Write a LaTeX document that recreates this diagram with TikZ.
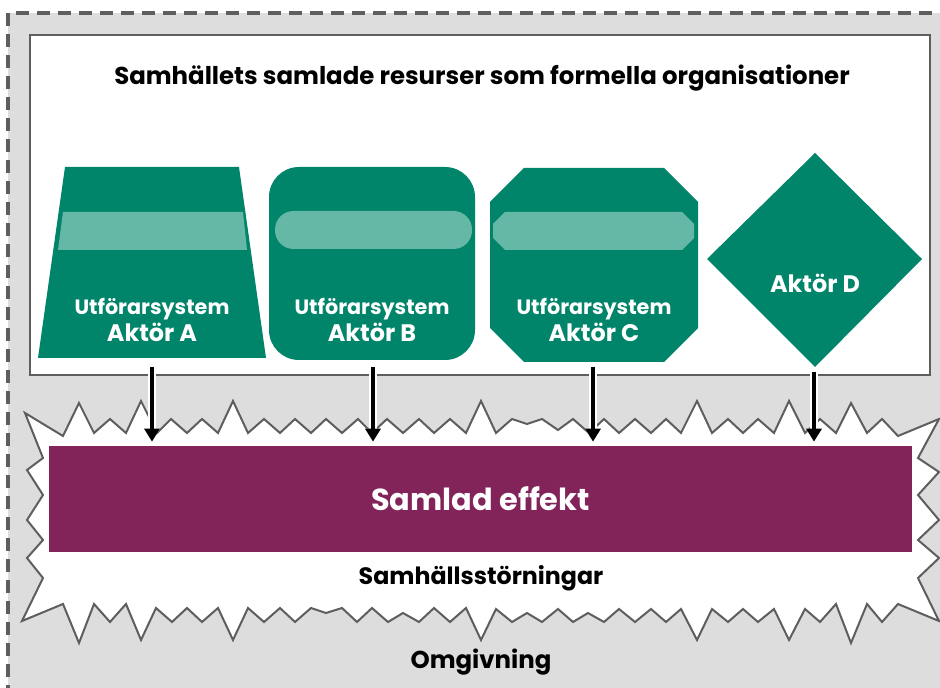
\documentclass[tikz,border=0pt]{standalone}
\usepackage{fontspec}
\setmainfont{Poppins}
\usetikzlibrary{arrows.meta}
\definecolor{envgray}{HTML}{DDDDDD}
\definecolor{edgegray}{HTML}{5E5E5E}
\definecolor{actgreen}{HTML}{00846A}
\definecolor{bandgreen}{HTML}{66B8A6}
\definecolor{effpurple}{HTML}{82245A}
\newcommand{\actname}[1]{{\fontsize{13.6}{15.9}\selectfont #1}}
\tikzset{
  env/.style={fill=envgray, draw=edgegray, line width=0.065cm, dash pattern=on 0.26cm off 0.16cm},
  res/.style={fill=white, draw=edgegray, line width=0.04cm},
  burst/.style={fill=white, draw=edgegray, line width=0.04cm, line join=miter},
  actor/.style={fill=actgreen},
  band/.style={fill=bandgreen},
  actlab/.style={text=white, align=center, font=\fontsize{11.8}{15.9}\selectfont\bfseries},
  effbox/.style={fill=effpurple, text=white, minimum width=17.26cm, minimum height=2.12cm,
    font=\fontsize{17.3}{19}\selectfont\bfseries},
  heading/.style={font=\fontsize{13.5}{15}\selectfont\bfseries},
  flow/.style={-{Triangle[width=0.3cm, length=0.26cm]}, line width=0.075cm, shorten >=0.08cm,
    preaction={draw=white, line width=0.16cm}}
}
\begin{document}
\begin{tikzpicture}[x=0.02cm, y=-0.02cm]
  \useasboundingbox (0,0) rectangle (940,688);

  % omgivning
  \draw[env] (8,13) rectangle (970,720);

  % resurser
  \draw[res] (30,35) rectangle (930,375);
  \node[heading, font=\fontsize{13.9}{16}\selectfont\bfseries] (title) at (482,78)
    {Samhällets samlade resurser som formella organisationer};

  % samhällsstörningar
  \draw[burst] (25,413) -- (63,436) -- (79,403) -- (94,433) -- (110,419) -- (126,433) -- (141,401)
    -- (157,433) -- (171,419) -- (187,433) -- (202,419) -- (218,433) -- (233,401) -- (248,433)
    -- (264,419) -- (280,433) -- (295,419) -- (311,433) -- (326,419) -- (342,433) -- (358,419)
    -- (372,433) -- (387,419) -- (403,433) -- (419,419) -- (434,433) -- (450,419) -- (466,433)
    -- (481,401) -- (496,433) -- (512,419) -- (527,424) -- (542,419) -- (558,430) -- (573,419)
    -- (589,433) -- (604,419) -- (619,433) -- (635,419) -- (651,433) -- (666,419) -- (681,433)
    -- (697,401) -- (712,433) -- (728,419) -- (743,433) -- (758,419) -- (774,433) -- (789,401)
    -- (805,433) -- (820,419) -- (836,433) -- (851,403) -- (867,433) -- (882,419) -- (898,436)
    -- (939,419) -- (918,458) -- (939,472) -- (918,495) -- (939,520) -- (918,540) -- (939,558)
    -- (918,578) -- (939,621)
    -- (898,604) -- (882,622) -- (867,604) -- (851,643) -- (836,604) -- (820,622) -- (805,609)
    -- (789,640) -- (774,609) -- (758,622) -- (743,609) -- (728,622) -- (712,609) -- (697,640)
    -- (681,609) -- (666,622) -- (651,609) -- (635,622) -- (619,609) -- (604,622) -- (588,613)
    -- (573,622) -- (558,609) -- (542,622) -- (527,613) -- (512,622) -- (496,609) -- (481,640)
    -- (466,608) -- (450,622) -- (434,608) -- (419,622) -- (403,613) -- (388,622) -- (372,608)
    -- (357,622) -- (342,608) -- (326,613) -- (311,608) -- (295,622) -- (280,608) -- (264,622)
    -- (248,608) -- (233,640) -- (218,608) -- (202,622) -- (187,608) -- (172,622) -- (156,608)
    -- (141,640) -- (126,604) -- (110,622) -- (94,604) -- (79,643) -- (63,604) -- (22,621)
    -- (43,578) -- (27,558) -- (43,540) -- (27,520) -- (43,495) -- (27,470) -- (43,458) -- cycle;

  % aktörer
  \fill[actor] (65,167) -- (239,167) -- (266,358) -- (38,358) -- cycle;
  \fill[band] (63,212) -- (243,212) -- (247,250) -- (58,250) -- cycle;
  \fill[actor, rounded corners=0.6cm] (269,167) rectangle (475,360);
  \fill[band, rounded corners=0.37cm] (275,211) rectangle (472,249);
  \fill[actor] (524,168) -- (664,168) -- (698,202) -- (698,328) -- (664,362) -- (524,362)
    -- (490,328) -- (490,202) -- cycle;
  \fill[band] (505,212) -- (682,212) -- (694,224) -- (694,238) -- (682,250) -- (505,250)
    -- (493,238) -- (493,224) -- cycle;
  \fill[actor] (815,153) -- (922,259) -- (815,367) -- (707,259) -- cycle;

  \node[actlab] (actA) at (152,320) {Utförarsystem\\\actname{Aktör A}};
  \node[actlab] (actB) at (372,320) {Utförarsystem\\\actname{Aktör B}};
  \node[actlab] (actC) at (594,320) {Utförarsystem\\\actname{Aktör C}};
  \node[actlab] (actD) at (815,283) {\actname{Aktör D}};

  \coordinate (outA) at (152,367);
  \coordinate (outB) at (373,367);
  \coordinate (outC) at (593,367);
  \coordinate (outD) at (814,372);

  % effekt
  \node[effbox] (effekt) at (480.5,499) {Samlad effekt};
  \node[heading] (storning) at (481,578) {Samhällsstörningar};
  \node[heading, font=\fontsize{13.9}{15}\selectfont\bfseries] (omgivning) at (481,662) {Omgivning};

  \draw[flow] (outA) -- (outA |- effekt.north);
  \draw[flow] (outB) -- (outB |- effekt.north);
  \draw[flow] (outC) -- (outC |- effekt.north);
  \draw[flow] (outD) -- (outD |- effekt.north);
\end{tikzpicture}
\end{document}
